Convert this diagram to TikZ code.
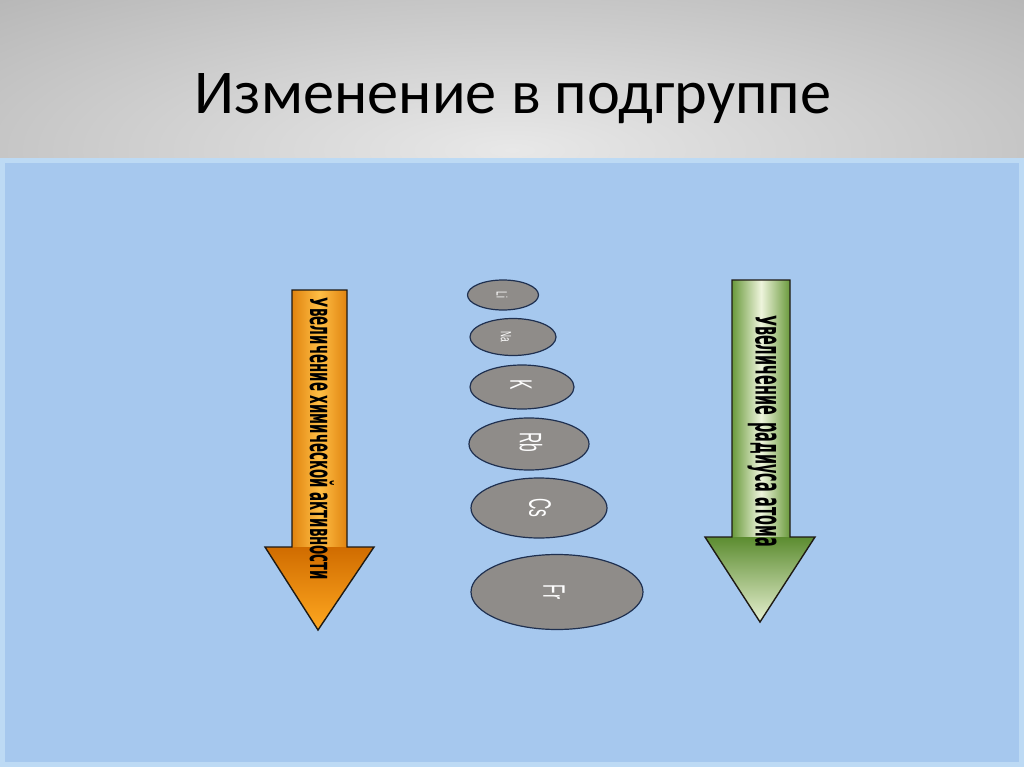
\documentclass[tikz,border=0pt]{standalone}
\usepackage{fontspec}
\setmainfont{Carlito}
\newfontfamily\lblfont{Liberation Sans}
\newfontfamily\arrfont{DejaVu Sans}
\usetikzlibrary{shapes.geometric}
\definecolor{slideblue}{HTML}{A6C8EE}
\definecolor{slideedge}{HTML}{BDDAF4}
\definecolor{hdrlight}{HTML}{E8E8E8}
\definecolor{hdrdark}{HTML}{A4A4A4}
\definecolor{orgdark}{HTML}{E08410}
\definecolor{orglight}{HTML}{FFBE45}
\definecolor{orghead}{HTML}{D06C00}
\definecolor{orgtip}{HTML}{FFA820}
\definecolor{grndark}{HTML}{6A9A3C}
\definecolor{grnlight}{HTML}{EEF4DC}
\definecolor{grnhead}{HTML}{5C8C30}
\definecolor{grntip}{HTML}{E6F0D0}
\definecolor{atomfill}{HTML}{8F8C89}
\definecolor{atomline}{HTML}{1F3050}
\definecolor{outline}{HTML}{1E1A14}
\newcommand{\smallcap}[1]{\scalebox{1}[0.76]{#1}}
\tikzset{
  atom/.style={draw=atomline, fill=atomfill, line width=1.2pt},
  atomlbl/.style={text=white, font=\lblfont, rotate=-90, inner sep=0pt},
  arrowtxt/.style={text=black, font=\arrfont\bfseries, rotate=-90, inner sep=0pt},
  arrowline/.style={draw=outline, line width=1.4pt, line join=miter}
}
\begin{document}
\begin{tikzpicture}[x=1pt,y=-1pt]
\useasboundingbox (0,0) rectangle (1024,767);
% header
\begin{scope}
\clip (0,0) rectangle (1024,158);
\shade[inner color=hdrlight, outer color=hdrdark] (-512,-150) rectangle (1536,450);
\end{scope}
% blue area
\fill[slideedge] (0,158) rectangle (1024,767);
\fill[slideblue] (5,163) rectangle (1019,762);
% title
\node[anchor=base, font=\fontsize{64}{72}\selectfont, inner sep=0pt] (title) at (513,114) {\resizebox{636pt}{!}{Изменение в подгруппе}};

% orange arrow
\shade[left color=orgdark, right color=orgdark, middle color=orglight] (292,290) rectangle (347,547);
\shade[top color=orghead, bottom color=orgtip] (265,547) -- (374,547) -- (318,630) -- cycle;
\draw[arrowline] (292,290) -- (347,290) -- (347,547) -- (374,547) -- (318,630) -- (265,547) -- (292,547) -- cycle;
\node[arrowtxt] (acttxt) at (322,439) {\resizebox{282pt}{24pt}{\smallcap{У}величение химической активности}};

% green arrow
\shade[left color=grndark, right color=grndark, middle color=grnlight] (732,280) rectangle (790,537);
\shade[top color=grnhead, bottom color=grntip] (705,537) -- (815,537) -- (760,622) -- cycle;
\draw[arrowline] (732,280) -- (790,280) -- (790,537) -- (815,537) -- (760,622) -- (705,537) -- (732,537) -- cycle;
\node[arrowtxt] (radtxt) at (762,431) {\resizebox{232pt}{21pt}{\smallcap{У}величение\hspace{0.5em}радиуса\hspace{0.4em}атома}};

% atoms
\draw[atom] (503,295) ellipse [x radius=35.5, y radius=15];
\draw[atom] (513,337) ellipse [x radius=43, y radius=18.5];
\draw[atom] (522,387) ellipse [x radius=52, y radius=22];
\draw[atom] (529,444) ellipse [x radius=60, y radius=26];
\draw[atom] (539,508) ellipse [x radius=68, y radius=30];
\draw[atom] (557,592) ellipse [x radius=86, y radius=37.5];
\node[atomlbl] (li) at (502,295) {\scalebox{0.55}[1]{\fontsize{15}{15}\selectfont Li}};
\node[atomlbl] (na) at (506,337) {\scalebox{0.55}[1]{\fontsize{15}{15}\selectfont Na}};
\node[atomlbl] (k)  at (521,385) {\scalebox{0.5}[1]{\fontsize{31}{31}\selectfont K}};
\node[atomlbl] (rb) at (531,442) {\scalebox{0.5}[1]{\fontsize{31}{31}\selectfont Rb}};
\node[atomlbl] (cs) at (540,508) {\scalebox{0.5}[1]{\fontsize{31}{31}\selectfont Cs}};
\node[atomlbl] (fr) at (554,592) {\scalebox{0.5}[1]{\fontsize{31}{31}\selectfont Fr}};
\end{tikzpicture}
\end{document}
